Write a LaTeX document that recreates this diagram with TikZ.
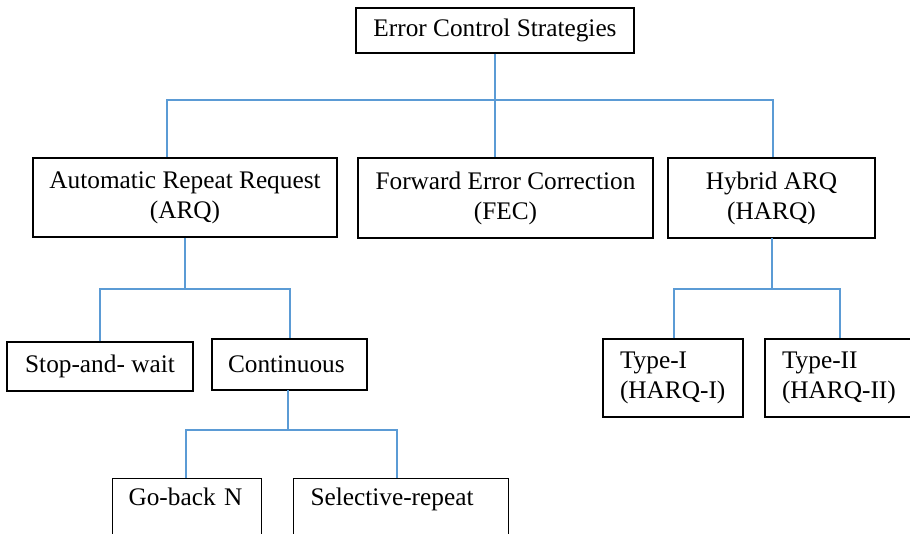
\documentclass[tikz,border=0pt]{standalone}
\usepackage{fontspec}
\setmainfont{Liberation Serif}
\definecolor{linkblue}{RGB}{91,155,213}
\begin{document}
\begin{tikzpicture}[x=1pt,y=-1pt,
  box/.style={draw=black, line width=1.1pt, rectangle, inner sep=0pt, align=center,
    font=\fontsize{25.3}{30}\selectfont},
  lbox/.style={box, align=left, inner xsep=17pt},
  link/.style={draw=linkblue, line width=1.2pt}]
\useasboundingbox (0,0) rectangle (910,533);
\begin{scope}
\clip (0,0) rectangle (910,533);

% tree of boxes
\node[box, minimum width=278pt, minimum height=45pt] (root) at (495,30.5) {Error Control Strategies};
\node[box, minimum width=304pt, minimum height=79pt] (arq) at (185,197.5) {Automatic Repeat Request\\(ARQ)};
\node[box, minimum width=295pt, minimum height=80pt] (fec) at (505.5,198) {Forward Error Correction\\(FEC)};
\node[box, minimum width=207pt, minimum height=80pt] (harq) at (771.5,198) {Hybrid ARQ\\(HARQ)};

\node[box, minimum width=186pt, minimum height=49pt] (stop) at (100,366.5) {Stop-and- wait};
\node[lbox, inner xsep=16pt, text width=123pt, minimum height=51pt] (cont) at (289.5,364.5) {Continuous};

\node[lbox, inner xsep=16pt, text width=117pt, anchor=north west, inner ysep=8pt,
  text height=19pt, text depth=32pt] (gob) at (112,478) {Go-back N};
\node[lbox, text width=181pt, anchor=north west, inner ysep=8pt,
  text height=19pt, text depth=32pt] (sel) at (293,478) {Selective-repeat};

\node[lbox, text width=106pt, minimum height=78pt] (t1) at (673,378) {Type-I\\(HARQ-I)};
\node[lbox, text width=116pt, minimum height=78pt] (t2) at (840,378) {Type-II\\(HARQ-II)};

% connector junctions
\coordinate (busL) at (167,100);
\coordinate (busR) at (773,100);
\coordinate (aL) at (100,289);
\coordinate (aR) at (290,289);
\coordinate (cL) at (186,430);
\coordinate (cR) at (397,430);
\coordinate (hL) at (674,289);
\coordinate (hR) at (840,289);

% connectors
\draw[link] (root.south) -- (root.south |- fec.north);
\draw[link] (busL |- arq.north) -- (busL) -- (busR) -- (busR |- harq.north);

\draw[link] (arq.south) -- (arq.south |- aL);
\draw[link] (aL |- stop.north) -- (aL) -- (aR) -- (aR |- cont.north);

\draw[link] (288,390) coordinate (contb) -- (contb |- cL);
\draw[link] (cL |- gob.north) -- (cL) -- (cR) -- (cR |- sel.north);

\draw[link] (772,238) coordinate (harqb) -- (harqb |- hL);
\draw[link] (hL |- t1.north) -- (hL) -- (hR) -- (hR |- t2.north);
\end{scope}
\end{tikzpicture}
\end{document}
